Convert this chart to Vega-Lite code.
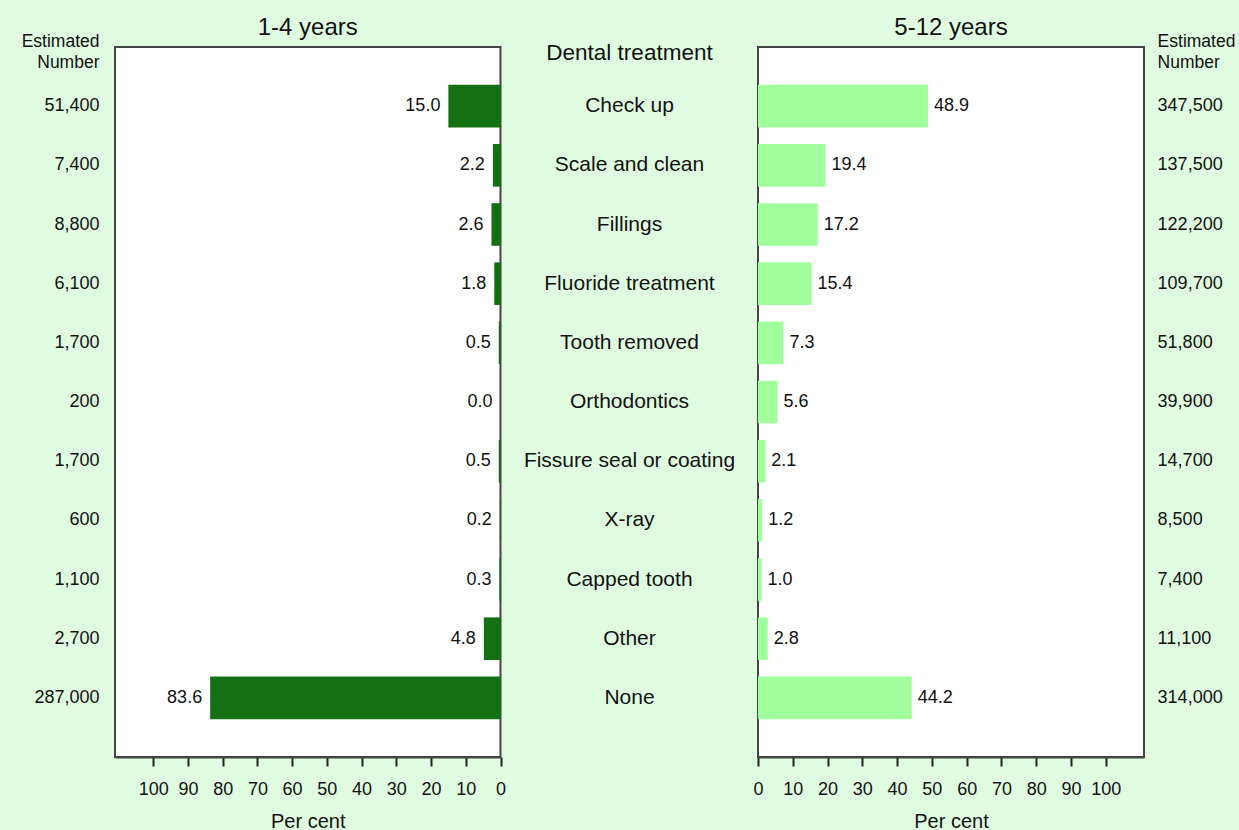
{
  "$schema": "https://vega.github.io/schema/vega-lite/v6.json",
  "background": "#e0fce0",
  "padding": {"left": 0, "right": 0, "top": 14, "bottom": 0},
  "spacing": 0,
  "bounds": "flush",
  "data": {"values": [
    {"treatment": "Check up", "p14": 15.0, "n14": 51400, "p512": 48.9, "n512": 347500},
    {"treatment": "Scale and clean", "p14": 2.2, "n14": 7400, "p512": 19.4, "n512": 137500},
    {"treatment": "Fillings", "p14": 2.6, "n14": 8800, "p512": 17.2, "n512": 122200},
    {"treatment": "Fluoride treatment", "p14": 1.8, "n14": 6100, "p512": 15.4, "n512": 109700},
    {"treatment": "Tooth removed", "p14": 0.5, "n14": 1700, "p512": 7.3, "n512": 51800},
    {"treatment": "Orthodontics", "p14": 0.0, "n14": 200, "p512": 5.6, "n512": 39900},
    {"treatment": "Fissure seal or coating", "p14": 0.5, "n14": 1700, "p512": 2.1, "n512": 14700},
    {"treatment": "X-ray", "p14": 0.2, "n14": 600, "p512": 1.2, "n512": 8500},
    {"treatment": "Capped tooth", "p14": 0.3, "n14": 1100, "p512": 1.0, "n512": 7400},
    {"treatment": "Other", "p14": 4.8, "n14": 2700, "p512": 2.8, "n512": 11100},
    {"treatment": "None", "p14": 83.6, "n14": 287000, "p512": 44.2, "n512": 314000}
  ]},
  "hconcat": [
    {
      "width": 114.5, "height": 710,
      "view": {"stroke": null, "fill": null},
      "title": {"text": ["Estimated", "Number"], "anchor": "end", "dx": -15, "fontSize": 17.5, "lineHeight": 21, "baseline": "alphabetic", "offset": -38, "fontWeight": "normal", "color": "#111"},
      "mark": {"type": "text", "align": "right", "baseline": "middle", "dx": -15, "fontSize": 18, "color": "#111"},
      "encoding": {
        "y": {"field": "treatment", "type": "nominal", "sort": null, "scale": {"type": "band", "paddingInner": 0.28, "paddingOuter": 0.64}, "axis": null},
        "x": {"value": "width"},
        "text": {"field": "n14", "type": "quantitative", "format": ","}
      }
    },
    {
      "width": 385.5, "height": 710,
      "title": {"text": "1-4 years", "fontSize": 24, "baseline": "alphabetic", "offset": -11.5, "fontWeight": "normal", "color": "#111"},
      "encoding": {
        "y": {"field": "treatment", "type": "nominal", "sort": null, "scale": {"type": "band", "paddingInner": 0.28, "paddingOuter": 0.64}, "axis": null},
        "x": {"field": "p14", "type": "quantitative", "scale": {"domain": [0, 111], "reverse": true, "nice": false},
              "axis": {"title": "Per cent", "values": [0, 10, 20, 30, 40, 50, 60, 70, 80, 90, 100]}}
      },
      "layer": [
        {"mark": {"type": "bar", "color": "#137013"}},
        {"mark": {"type": "text", "align": "right", "baseline": "middle", "dx": -8, "fontSize": 18, "color": "#111"},
         "encoding": {"text": {"field": "p14", "type": "quantitative", "format": ".1f"}}}
      ]
    },
    {
      "width": 257, "height": 710,
      "view": {"stroke": null, "fill": null},
      "title": {"text": "Dental treatment", "fontSize": 22.5, "baseline": "alphabetic", "offset": -35, "fontWeight": "normal", "color": "#111"},
      "mark": {"type": "text", "align": "center", "baseline": "middle", "fontSize": 21, "color": "#111"},
      "encoding": {
        "y": {"field": "treatment", "type": "nominal", "sort": null, "scale": {"type": "band", "paddingInner": 0.28, "paddingOuter": 0.64}, "axis": null},
        "text": {"field": "treatment", "type": "nominal"}
      }
    },
    {
      "width": 386, "height": 710,
      "title": {"text": "5-12 years", "fontSize": 24, "baseline": "alphabetic", "offset": -11.5, "fontWeight": "normal", "color": "#111"},
      "encoding": {
        "y": {"field": "treatment", "type": "nominal", "sort": null, "scale": {"type": "band", "paddingInner": 0.28, "paddingOuter": 0.64}, "axis": null},
        "x": {"field": "p512", "type": "quantitative", "scale": {"domain": [0, 111], "nice": false},
              "axis": {"title": "Per cent", "values": [0, 10, 20, 30, 40, 50, 60, 70, 80, 90, 100]}}
      },
      "layer": [
        {"mark": {"type": "bar", "color": "#a0ff9c"}},
        {"mark": {"type": "text", "align": "left", "baseline": "middle", "dx": 6, "fontSize": 18, "color": "#111"},
         "encoding": {"text": {"field": "p512", "type": "quantitative", "format": ".1f"}}}
      ]
    },
    {
      "width": 96, "height": 710,
      "view": {"stroke": null, "fill": null},
      "title": {"text": ["Estimated", "Number"], "anchor": "start", "dx": 13.6, "fontSize": 17.5, "lineHeight": 21, "baseline": "alphabetic", "offset": -38, "fontWeight": "normal", "color": "#111"},
      "mark": {"type": "text", "align": "left", "baseline": "middle", "dx": 13.6, "fontSize": 18, "color": "#111"},
      "encoding": {
        "y": {"field": "treatment", "type": "nominal", "sort": null, "scale": {"type": "band", "paddingInner": 0.28, "paddingOuter": 0.64}, "axis": null},
        "x": {"value": 0},
        "text": {"field": "n512", "type": "quantitative", "format": ","}
      }
    }
  ],
  "config": {
    "font": "Liberation Sans",
    "view": {"fill": "white", "stroke": "#444", "strokeWidth": 2},
    "axisX": {
      "grid": false,
      "tickSize": 9, "tickWidth": 2, "tickColor": "#222",
      "domainColor": "#444", "domainWidth": 2,
      "labelFontSize": 18, "labelColor": "#111", "labelPadding": 14.5,
      "labelFlush": false, "labelOverlap": false,
      "titleFontSize": 20, "titleFontWeight": "normal", "titleColor": "#111", "titlePadding": 12.5
    }
  }
}
